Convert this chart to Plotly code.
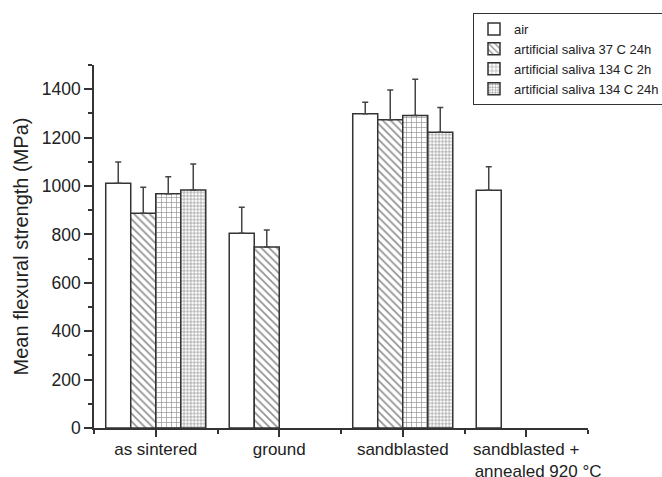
import numpy as np
import plotly.graph_objects as go

categories = ["as sintered", "ground", "sandblasted",
              "sandblasted +<br>\u00a0\u00a0\u00a0\u00a0\u00a0annealed 920 °C"]
series_names = ["air", "artificial saliva 37 C 24h", "artificial saliva 134 C 2h", "artificial saliva 134 C 24h"]

air_mean = [1011, 805, 1299, 982]
air_err = [88, 107, 47, 98]
s37_mean = [887, 748, 1274, None]
s37_err = [108, 70, 123, None]
s134_2h_mean = [968, None, 1291, None]
s134_2h_err = [70, None, 150, None]
s134_24h_mean = [983, None, 1222, None]
s134_24h_err = [108, None, 102, None]

y_ticks = [0, 200, 400, 600, 800, 1000, 1200, 1400]

means = [air_mean, s37_mean, s134_2h_mean, s134_24h_mean]
errs = [air_err, s37_err, s134_2h_err, s134_24h_err]
patterns = [
    dict(shape=""),
    dict(shape="\\", size=5.5, solidity=0.3, fgcolor="#222222", bgcolor="white"),
    dict(shape="+", size=5, solidity=0.25, fgcolor="#222222", bgcolor="white"),
    dict(shape="+", size=3.4, solidity=0.35, fgcolor="#222222", bgcolor="white"),
]

xpos = np.arange(len(categories))
fig = go.Figure()
for name, m, e, p in zip(series_names, means, errs, patterns):
    fig.add_trace(go.Bar(
        x=xpos, y=m, name=name,
        marker=dict(color="white", line=dict(color="#333333", width=1.5), pattern=p),
        error_y=dict(type="data", symmetric=False, array=e,
                     arrayminus=[0 if v is not None else None for v in e],
                     color="#444444", thickness=1.5, width=3),
    ))

fig.update_layout(
    width=662, height=477,
    paper_bgcolor="white", plot_bgcolor="white",
    barmode="group", bargap=0.19, bargroupgap=0,
    margin=dict(l=94, r=74, t=65, b=49, autoexpand=False),
    font=dict(family="Liberation Sans, Arial, sans-serif", color="#222222"),
    showlegend=True,
    legend=dict(xref="container", yref="container", x=473/662, y=1-13/477,
                xanchor="left", yanchor="top",
                bordercolor="#333333", borderwidth=1, bgcolor="white",
                font=dict(size=13, color="#222222"),
                tracegroupgap=0, itemwidth=30),
)
fig.update_xaxes(
    range=[-0.5, 3.5], tickmode="array", tickvals=xpos, ticktext=categories,
    tickangle=0, automargin=False, ticklabelstandoff=-2,
    showline=True, linecolor="#333333", linewidth=1.5,
    ticks="outside", ticklen=7, tickwidth=1.5, tickcolor="#333333",
    tickfont=dict(size=17, color="#222222"),
    showgrid=False, zeroline=False,
    minor=dict(ticks="outside", tickmode="linear", tick0=-0.5, dtick=1, ticklen=4,
               tickwidth=1.5, tickcolor="#333333", showgrid=False),
)
fig.update_yaxes(
    range=[0, 1500], tickmode="array", tickvals=y_ticks, automargin=False,
    title=dict(text="Mean flexural strength (MPa)", font=dict(size=20, color="#222222"), standoff=8),
    showline=True, linecolor="#333333", linewidth=1.5,
    ticks="outside", ticklen=8, tickwidth=1.5, tickcolor="#333333",
    tickfont=dict(size=17.5, color="#222222"),
    showgrid=False, zeroline=False,
    minor=dict(ticks="outside", tickmode="linear", tick0=0, dtick=100, ticklen=4,
               tickwidth=1.5, tickcolor="#333333", showgrid=False),
)

fig.write_html("out.html", config={"displayModeBar": False},
               post_script="document.body.style.margin='0';")
